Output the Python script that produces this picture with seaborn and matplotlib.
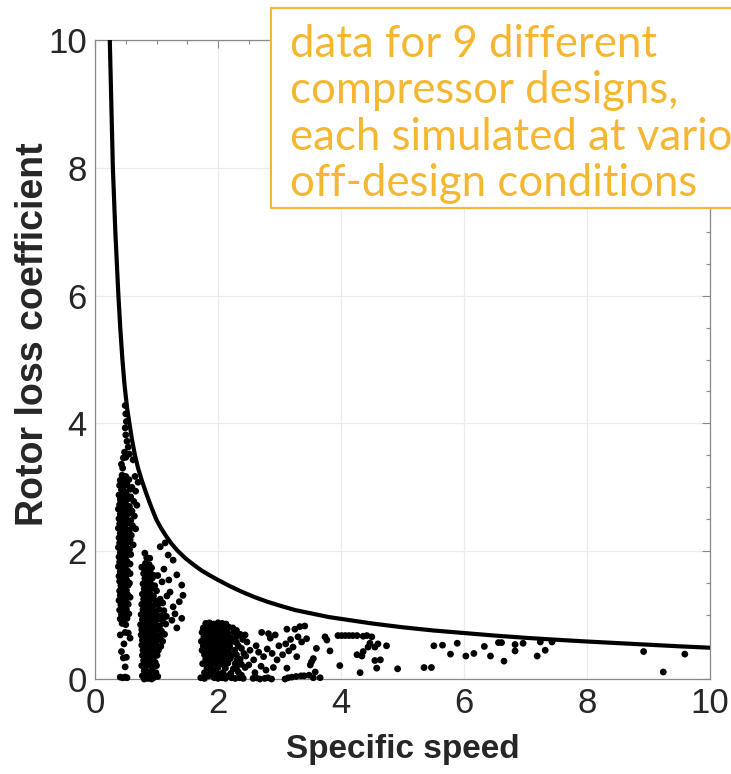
"""
Rotor loss coefficient vs specific speed: simulated compressor points
with the empirical upper-bound curve drawn over them.
"""
import pandas as pd
import matplotlib
matplotlib.use("Agg")
import matplotlib.pyplot as plt
from matplotlib.patches import Rectangle
from matplotlib.ticker import MultipleLocator
import seaborn as sns

# ---------- data ----------
curve_x = [0.24, 0.265, 0.29, 0.31, 0.33, 0.355, 0.38, 0.41, 0.445, 0.48, 0.52, 0.56,
           0.60, 0.65, 0.70, 0.76, 0.82, 0.88, 0.94, 1.00, 1.08, 1.16, 1.25, 1.35,
           1.47, 1.60, 1.73, 1.87, 2.00, 2.20, 2.40, 2.60, 2.80, 3.00, 3.25, 3.50,
           3.80, 4.15, 4.50, 5.00, 5.50, 6.00, 6.50, 7.00, 7.50, 8.00, 8.50, 9.00,
           9.50, 10.0]
curve_y = [10.0, 9.0, 8.0, 7.5, 7.0, 6.5, 6.0, 5.5, 5.0, 4.6, 4.25, 4.0,
           3.75, 3.5, 3.3, 3.11, 2.94, 2.78, 2.63, 2.49, 2.35, 2.23, 2.11, 2.0,
           1.89, 1.79, 1.70, 1.62, 1.55, 1.45, 1.36, 1.28, 1.21, 1.15, 1.08, 1.03,
           0.97, 0.92, 0.87, 0.81, 0.76, 0.72, 0.68, 0.645, 0.615, 0.587, 0.562, 0.537,
           0.512, 0.49]

cluster_a = [
    (0.49, 4.28), (0.50, 4.15), (0.51, 4.03), (0.49, 3.93), (0.50, 3.82), (0.52, 3.72),
    (0.54, 3.63), (0.48, 3.55), (0.56, 3.52), (0.46, 3.46), (0.50, 3.47), (0.43, 3.36),
    (0.45, 3.30), (0.62, 3.43), (0.65, 3.17), (0.70, 3.08),
    (0.44, 3.19), (0.50, 3.17), (0.41, 3.11), (0.47, 3.09), (0.55, 3.12),
    (0.40, 3.03), (0.46, 3.01), (0.52, 3.04), (0.60, 3.00),
    (0.43, 2.96), (0.49, 2.93), (0.57, 2.97), (0.66, 2.94),
    (0.39, 2.88), (0.45, 2.86), (0.51, 2.89), (0.58, 2.85),
    (0.41, 2.81), (0.48, 2.79), (0.54, 2.82), (0.63, 2.78),
    (0.40, 2.73), (0.44, 2.71), (0.50, 2.74), (0.56, 2.70), (0.68, 2.72),
    (0.38, 2.66), (0.46, 2.64), (0.52, 2.67), (0.60, 2.63),
    (0.41, 2.58), (0.47, 2.56), (0.55, 2.59), (0.64, 2.55),
    (0.39, 2.51), (0.45, 2.49), (0.50, 2.52), (0.58, 2.48),
    (0.40, 2.43), (0.48, 2.41), (0.53, 2.44), (0.61, 2.40),
    (0.38, 2.36), (0.43, 2.34), (0.49, 2.37), (0.56, 2.33), (0.66, 2.35),
    (0.41, 2.28), (0.47, 2.26), (0.52, 2.29), (0.59, 2.25),
    (0.39, 2.21), (0.45, 2.19), (0.51, 2.22), (0.57, 2.18),
    (0.40, 2.13), (0.46, 2.11), (0.54, 2.14), (0.62, 2.10),
    (0.38, 2.06), (0.44, 2.04), (0.50, 2.07), (0.56, 2.03),
    (0.41, 1.98), (0.47, 1.96), (0.53, 1.99), (0.58, 1.95),
    (0.39, 1.91), (0.45, 1.89), (0.51, 1.92),
    (0.40, 1.83), (0.46, 1.81), (0.52, 1.84), (0.57, 1.80),
    (0.38, 1.76), (0.44, 1.74), (0.50, 1.77),
    (0.41, 1.68), (0.47, 1.66), (0.53, 1.69), (0.57, 1.65),
    (0.39, 1.61), (0.45, 1.59), (0.51, 1.62),
    (0.40, 1.53), (0.46, 1.51), (0.52, 1.54), (0.56, 1.50),
    (0.42, 1.46), (0.48, 1.44), (0.54, 1.47),
    (0.40, 1.38), (0.45, 1.36), (0.51, 1.39),
    (0.41, 1.31), (0.47, 1.29), (0.53, 1.32), (0.57, 1.28),
    (0.39, 1.23), (0.44, 1.21), (0.50, 1.24),
    (0.42, 1.16), (0.48, 1.14), (0.54, 1.17),
    (0.40, 1.08), (0.46, 1.06), (0.51, 1.09),
    (0.43, 1.01), (0.49, 0.99), (0.55, 1.02),
    (0.41, 0.94), (0.47, 0.92), (0.52, 0.95),
    (0.44, 0.87), (0.50, 0.85),
    (0.41, 0.69), (0.49, 0.73), (0.54, 0.72), (0.57, 0.64), (0.47, 0.55), (0.43, 0.43),
    (0.46, 0.33), (0.51, 0.34), (0.49, 0.19),
    (0.41, 0.03), (0.45, 0.02), (0.49, 0.03), (0.52, 0.02),
]

cluster_b = [
    (0.81, 1.97), (0.89, 1.89), (0.84, 1.90), (0.76, 1.75), (1.06, 2.07), (1.14, 2.13),
    (1.19, 1.94), (1.27, 1.86), (1.33, 1.63), (1.41, 1.47), (1.43, 1.31), (1.25, 0.92),
    (1.41, 0.95), (1.33, 0.80), (1.09, 1.52), (1.22, 1.36), (1.27, 1.13), (1.10, 1.19),
    (1.17, 1.30), (1.02, 1.62), (1.12, 1.72), (1.20, 1.55), (1.30, 1.02), (1.37, 1.21),
    (1.16, 0.98),
    (0.82, 1.81), (0.88, 1.79),
    (0.80, 1.73), (0.86, 1.71), (0.92, 1.74),
    (0.79, 1.65), (0.85, 1.63), (0.90, 1.66), (0.96, 1.62),
    (0.81, 1.57), (0.87, 1.55), (0.93, 1.58),
    (0.78, 1.49), (0.84, 1.47), (0.90, 1.50), (0.97, 1.46),
    (0.80, 1.41), (0.86, 1.39), (0.92, 1.42), (1.00, 1.38),
    (0.77, 1.33), (0.83, 1.31), (0.89, 1.34), (0.95, 1.30),
    (0.79, 1.25), (0.85, 1.23), (0.91, 1.26), (0.98, 1.22), (1.06, 1.25),
    (0.76, 1.17), (0.82, 1.15), (0.88, 1.18), (0.94, 1.14), (1.02, 1.17),
    (0.78, 1.09), (0.84, 1.07), (0.90, 1.10), (0.96, 1.06), (1.04, 1.09), (1.12, 1.07),
    (0.75, 1.01), (0.81, 0.99), (0.87, 1.02), (0.93, 0.98), (0.99, 1.01), (1.07, 0.99),
    (0.77, 0.93), (0.83, 0.91), (0.89, 0.94), (0.95, 0.90), (1.01, 0.93), (1.10, 0.91),
    (0.74, 0.85), (0.80, 0.83), (0.86, 0.86), (0.92, 0.82), (0.98, 0.85), (1.05, 0.83), (1.15, 0.86),
    (0.76, 0.77), (0.82, 0.75), (0.88, 0.78), (0.94, 0.74), (1.00, 0.77), (1.08, 0.75),
    (0.75, 0.69), (0.81, 0.67), (0.87, 0.70), (0.93, 0.66), (0.99, 0.69), (1.06, 0.67), (1.13, 0.70),
    (0.77, 0.61), (0.83, 0.59), (0.89, 0.62), (0.95, 0.58), (1.02, 0.61), (1.10, 0.59),
    (0.76, 0.53), (0.82, 0.51), (0.88, 0.54), (0.94, 0.50), (1.00, 0.53), (1.07, 0.51),
    (0.78, 0.45), (0.84, 0.43), (0.90, 0.46), (0.96, 0.42), (1.03, 0.45),
    (0.77, 0.37), (0.83, 0.35), (0.89, 0.38), (0.95, 0.34), (1.01, 0.37),
    (0.79, 0.29), (0.85, 0.27), (0.91, 0.30), (0.98, 0.26),
    (0.76, 0.21), (0.82, 0.19), (0.88, 0.22), (0.94, 0.18), (1.00, 0.21),
    (0.80, 0.13), (0.86, 0.11), (0.93, 0.14), (0.99, 0.10),
    (0.77, 0.05), (0.83, 0.03), (0.89, 0.06), (0.95, 0.02), (1.02, 0.04),
    (0.80, 0.00), (0.86, 0.01), (0.92, 0.00),
]

cluster_c = [
    (1.80, 0.87), (1.86, 0.88), (1.93, 0.86), (2.00, 0.88), (2.07, 0.87), (2.13, 0.86),
    (1.76, 0.80), (1.83, 0.81), (1.90, 0.79), (1.97, 0.81), (2.04, 0.80), (2.11, 0.79), (2.18, 0.81),
    (1.74, 0.73), (1.81, 0.72), (1.88, 0.74), (1.95, 0.72), (2.02, 0.73), (2.09, 0.74), (2.16, 0.72), (2.26, 0.73),
    (1.77, 0.66), (1.84, 0.65), (1.91, 0.67), (1.98, 0.65), (2.05, 0.66), (2.12, 0.67), (2.20, 0.65), (2.30, 0.66),
    (1.73, 0.59), (1.80, 0.58), (1.87, 0.60), (1.94, 0.58), (2.01, 0.59), (2.08, 0.60), (2.15, 0.58), (2.24, 0.59),
    (1.76, 0.52), (1.83, 0.51), (1.90, 0.53), (1.97, 0.51), (2.04, 0.52), (2.11, 0.53), (2.19, 0.51), (2.33, 0.52),
    (1.74, 0.45), (1.81, 0.44), (1.88, 0.46), (1.95, 0.44), (2.02, 0.45), (2.09, 0.46), (2.17, 0.44), (2.27, 0.45),
    (1.78, 0.38), (1.85, 0.37), (1.92, 0.39), (1.99, 0.37), (2.06, 0.38), (2.14, 0.39), (2.22, 0.37),
    (1.80, 0.31), (1.87, 0.30), (1.94, 0.32), (2.01, 0.30), (2.10, 0.31), (2.20, 0.32), (2.31, 0.30),
    (1.75, 0.24), (1.83, 0.23), (1.91, 0.25), (1.98, 0.23), (2.06, 0.24), (2.16, 0.25), (2.38, 0.23),
    (1.82, 0.17), (1.90, 0.16), (2.00, 0.18), (2.12, 0.17), (2.25, 0.16),
    (1.78, 0.10), (1.88, 0.09), (1.97, 0.11), (2.08, 0.10), (2.21, 0.09), (2.33, 0.11),
    (1.72, 0.02), (1.78, 0.01), (1.94, 0.02), (2.00, 0.01), (2.06, 0.02), (2.12, 0.01),
    (2.22, 0.02), (2.28, 0.01), (2.35, 0.02), (2.41, 0.01),
    (2.24, 0.80), (2.30, 0.76), (2.36, 0.70), (2.40, 0.62), (2.30, 0.57), (2.38, 0.48),
    (2.42, 0.40), (2.30, 0.38), (2.36, 0.31), (2.28, 0.24), (2.44, 0.18), (2.30, 0.17),
    (2.38, 0.06), (2.16, 0.05), (1.85, 0.05), (2.02, 0.07),
]

sparse_mid = [
    (2.44, 0.69), (2.47, 0.58), (2.52, 0.45), (2.45, 0.36), (2.58, 0.30), (2.50, 0.22),
    (2.62, 0.52), (2.71, 0.73), (2.82, 0.71), (2.85, 0.64), (2.93, 0.69), (2.66, 0.42),
    (2.74, 0.35), (2.80, 0.47), (2.88, 0.40), (2.96, 0.30), (2.70, 0.20), (2.78, 0.14),
    (2.60, 0.10), (2.90, 0.18), (2.99, 0.52), (3.05, 0.38), (3.12, 0.78), (3.25, 0.78),
    (3.33, 0.82), (3.41, 0.83), (3.18, 0.62), (3.10, 0.55), (3.22, 0.50), (3.30, 0.66),
    (3.36, 0.58), (3.44, 0.63), (3.15, 0.44), (3.28, 0.35), (3.52, 0.27), (3.50, 0.22),
    (3.58, 0.11), (3.60, 0.48), (3.66, 0.02), (3.74, 0.66), (3.77, 0.61), (3.82, 0.44),
    (3.12, 0.17), (3.55, 0.32), (3.40, 0.05),
    (2.57, 0.01), (2.62, 0.02), (2.68, 0.00), (2.76, 0.01), (2.81, 0.02), (2.87, 0.00),
    (3.09, 0.00), (3.14, 0.02), (3.20, 0.03), (3.27, 0.04), (3.35, 0.05), (3.48, 0.06),
    (3.55, 0.02),
]

sparse_far = [
    (3.95, 0.68), (4.01, 0.68), (4.07, 0.68), (4.13, 0.68), (4.19, 0.68), (4.26, 0.68),
    (4.36, 0.67), (4.42, 0.68), (4.50, 0.66),
    (3.98, 0.21), (4.31, 0.10), (4.26, 0.38), (4.34, 0.36), (4.36, 0.43), (4.44, 0.50),
    (4.55, 0.50), (4.60, 0.55), (4.74, 0.52), (4.55, 0.29), (4.64, 0.30), (4.58, 0.17),
    (4.92, 0.16), (4.47, 0.56),
    (5.35, 0.18), (5.47, 0.18), (5.51, 0.52), (5.65, 0.53), (5.78, 0.39), (5.89, 0.56),
    (6.03, 0.36), (6.16, 0.40), (6.33, 0.51), (6.43, 0.36), (6.56, 0.57), (6.61, 0.57),
    (6.65, 0.28), (6.83, 0.54), (6.83, 0.44), (6.96, 0.56), (7.19, 0.36), (7.24, 0.58),
    (7.32, 0.45), (7.43, 0.58), (8.92, 0.43), (9.24, 0.11), (9.59, 0.39),
]

note_lines = ["data for 9 different", "compressor designs,",
              "each simulated at various", "off-design conditions"]

pts = pd.DataFrame(cluster_a + cluster_b + cluster_c + sparse_mid + sparse_far,
                   columns=["speed", "loss"])

# ---------- plot ----------
sns.set_theme(style="whitegrid")
plt.rcParams["font.family"] = ["Liberation Sans", "DejaVu Sans"]

fig = plt.figure(figsize=(7.31, 7.74), dpi=100)
ax = fig.add_axes([0.130, 0.1227, 0.8413, 0.8256])
ax.set_facecolor("white")

sns.scatterplot(data=pts, x="speed", y="loss", s=24, color="black",
                edgecolor="none", linewidth=0, ax=ax, zorder=3, clip_on=False)
sns.lineplot(x=curve_x, y=curve_y, sort=False, estimator=None, color="black",
             linewidth=3.0, ax=ax, zorder=4)

ax.set_xlim(0, 10)
ax.set_ylim(0, 10)
ax.set_xticks(range(0, 11, 2))
ax.set_yticks(range(0, 11, 2))
ax.xaxis.set_minor_locator(MultipleLocator(0.5))
ax.yaxis.set_minor_locator(MultipleLocator(0.5))
ax.grid(which="major", color="#ebebeb", linewidth=0.9)
ax.grid(which="minor", visible=False)
ax.tick_params(which="both", direction="in", top=True, right=True,
               color="#888888", labelcolor="#262626", labelsize=25, width=0.8)
ax.tick_params(which="major", length=6, pad=6)
ax.tick_params(which="minor", length=3)
for sp in ax.spines.values():
    sp.set_color("#888888")
    sp.set_linewidth(0.9)

ax.set_xlabel("Specific speed", fontsize=24, fontweight="bold", color="#262626")
ax.set_ylabel("Rotor loss coefficient", fontsize=27, fontweight="bold", color="#262626")
ax.xaxis.set_label_coords(0.5, -0.086)
ax.yaxis.set_label_coords(-0.072, 0.54)

# annotation box sitting over the top-right corner, running off the figure edge
box = Rectangle((271 / 731, 1 - 208 / 774), 0.8, 200 / 774, transform=fig.transFigure,
                facecolor="white", edgecolor="#f5b731", linewidth=1.5, zorder=5)
fig.patches.append(box)
fig.text(290 / 731, 1 - 24 / 774, "\n".join(note_lines), ha="left", va="top",
         fontsize=31.5, color="#f5b731", family=["Lato", "DejaVu Sans"],
         linespacing=1.16, zorder=6)

fig.savefig("out.png", dpi=100)
